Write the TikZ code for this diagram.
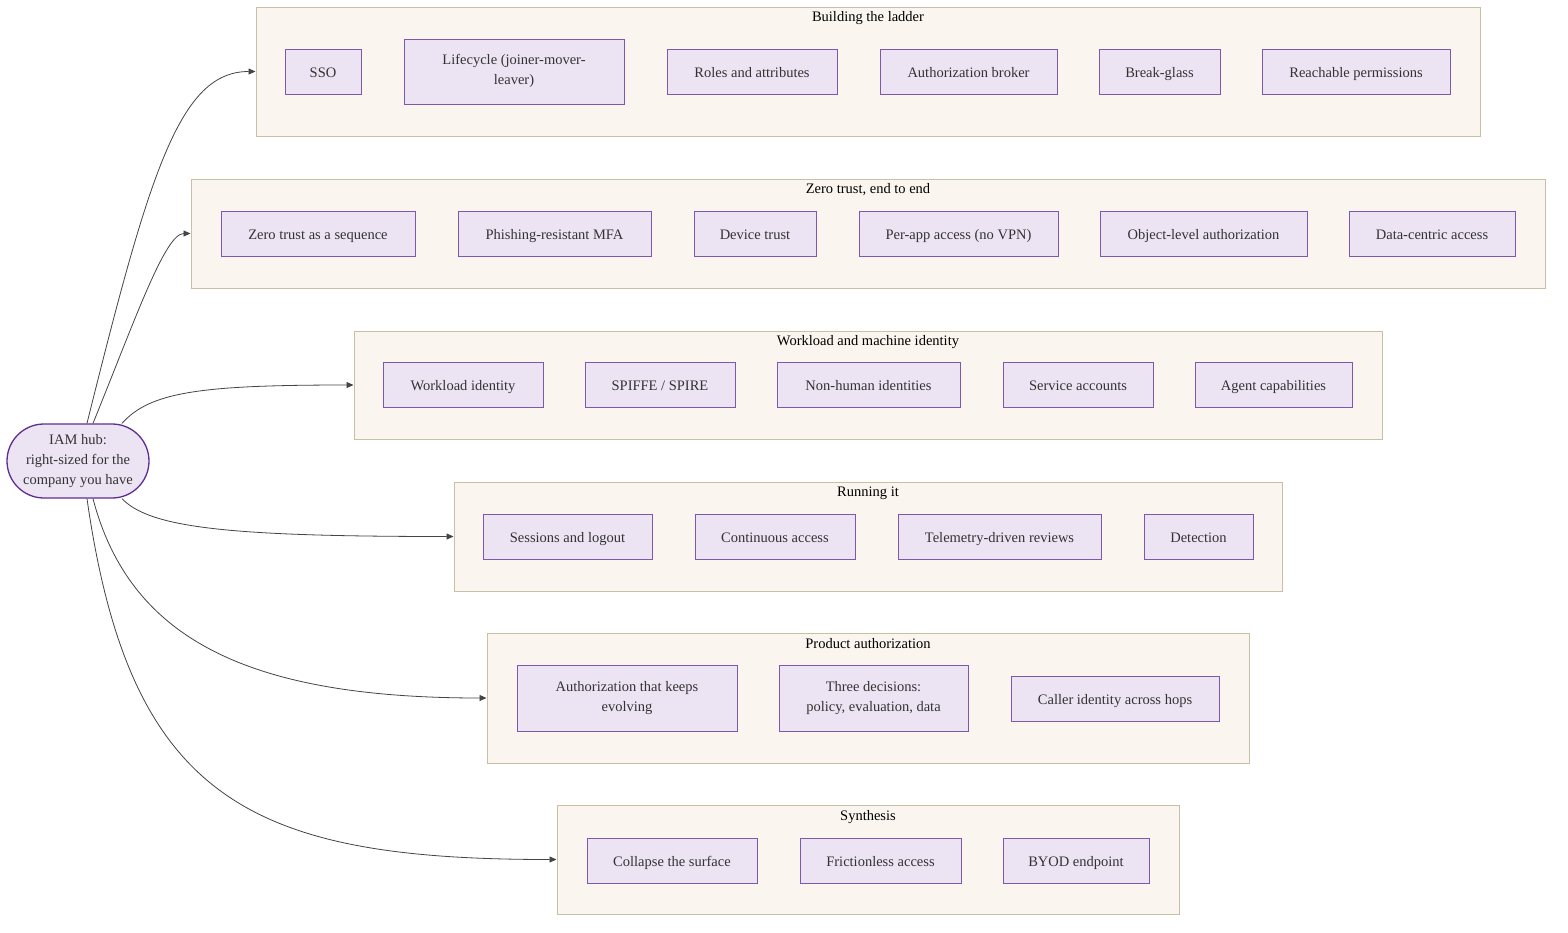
\documentclass[tikz,border=0pt]{standalone}
\usepackage{fontspec}
\setmainfont{Liberation Serif}
\usetikzlibrary{arrows.meta}
\definecolor{clfill}{HTML}{FAF6EF}
\definecolor{cldraw}{HTML}{C9BFA6}
\definecolor{itfill}{HTML}{ECE4F3}
\definecolor{itdraw}{HTML}{8057B0}
\definecolor{hubdraw}{HTML}{5E2E91}
\definecolor{txt}{HTML}{333333}
\definecolor{edge}{HTML}{444444}
\newcommand\boxstrut{\rule[-4pt]{0pt}{19pt}}
\tikzset{
  cluster/.style={draw=cldraw, fill=clfill, line width=1pt, inner sep=0pt},
  ctitle/.style={font=\fontsize{14.5}{16}\selectfont, text=black, inner sep=0pt,
    execute at begin node=\strut},
  itembox/.style={draw=itdraw, fill=itfill, line width=0.9pt, inner sep=0pt, minimum height=45pt,
    font=\fontsize{14.5}{20}\selectfont, text=txt, align=center,
    execute at begin node=\boxstrut, execute at end node=\boxstrut},
  hubbox/.style={draw=hubdraw, fill=itfill, line width=1.3pt, rounded corners=37pt, inner sep=0pt,
    minimum width=142pt, minimum height=74pt, font=\fontsize{14.5}{20}\selectfont, text=txt, align=center,
    execute at begin node=\boxstrut, execute at end node=\boxstrut},
  link/.style={draw=edge, line width=0.8pt, -{Triangle[length=7pt,width=6pt]}}
}
\begin{document}
\begin{tikzpicture}[x=1pt,y=-1pt]
\useasboundingbox (0,0) rectangle (1568,932);
\fill[white] (0,0) rectangle (1568,932);
% clusters
\node[cluster, minimum width=1224pt, minimum height=129pt] (c1) at (868,71.5) {};
\node[ctitle] (t1) at (868,18) {Building the ladder};
\node[cluster, minimum width=1354pt, minimum height=109pt] (c2) at (868,233.5) {};
\node[ctitle] (t2) at (868,190) {Zero trust, end to end};
\node[cluster, minimum width=1028pt, minimum height=108pt] (c3) at (868,385) {};
\node[ctitle] (t3) at (868,342) {Workload and machine identity};
\node[cluster, minimum width=828pt, minimum height=109pt] (c4) at (868,536.5) {};
\node[ctitle] (t4) at (868,493) {Running it};
\node[cluster, minimum width=762pt, minimum height=130pt] (c5) at (868,698) {};
\node[ctitle] (t5) at (868,645) {Product authorization};
\node[cluster, minimum width=622pt, minimum height=109pt] (c6) at (868,859.5) {};
\node[ctitle] (t6) at (868,817) {Synthesis};
% cluster 1
\node[itembox, minimum width=76pt] (sso) at (323,71.5) {SSO};
\node[itembox, minimum width=220pt, minimum height=65pt] (life) at (514,71.5) {Lifecycle (joiner-mover-\\leaver)};
\node[itembox, minimum width=170pt] (roles) at (752,71.5) {Roles and attributes};
\node[itembox, minimum width=177pt] (broker) at (968.5,71.5) {Authorization broker};
\node[itembox, minimum width=121pt] (glass) at (1159.5,71.5) {Break-glass};
\node[itembox, minimum width=188pt] (reach) at (1356,71.5) {Reachable permissions};
% cluster 2
\node[itembox, minimum width=194pt] (ztseq) at (318,233.5) {Zero trust as a sequence};
\node[itembox, minimum width=193pt] (mfa) at (554.5,233.5) {Phishing-resistant MFA};
\node[itembox, minimum width=122pt] (dev) at (755,233.5) {Device trust};
\node[itembox, minimum width=199pt] (perapp) at (958.5,233.5) {Per-app access (no VPN)};
\node[itembox, minimum width=207pt] (objlvl) at (1203.5,233.5) {Object-level authorization};
\node[itembox, minimum width=166pt] (data) at (1432,233.5) {Data-centric access};
% cluster 3
\node[itembox, minimum width=160pt] (wid) at (463,384.5) {Workload identity};
\node[itembox, minimum width=150pt] (spiffe) at (660,384.5) {SPIFFE / SPIRE};
\node[itembox, minimum width=183pt] (nhi) at (868.5,384.5) {Non-human identities};
\node[itembox, minimum width=150pt] (svc) at (1078,384.5) {Service accounts};
\node[itembox, minimum width=157pt] (agent) at (1273.5,384.5) {Agent capabilities};
% cluster 4
\node[itembox, minimum width=169pt] (sess) at (567.5,536.5) {Sessions and logout};
\node[itembox, minimum width=160pt] (cont) at (775,536.5) {Continuous access};
\node[itembox, minimum width=203pt] (tele) at (999.5,536.5) {Telemetry-driven reviews};
\node[itembox, minimum width=109pt] (det) at (1198.5,536.5) {Detection};
% cluster 5
\node[itembox, minimum width=220pt, minimum height=66pt] (evolve) at (627,698) {Authorization that keeps\\evolving};
\node[itembox, minimum width=189pt, minimum height=66pt] (three) at (873.5,698) {Three decisions:\\policy, evaluation, data};
\node[itembox, minimum width=208pt] (caller) at (1115,698.5) {Caller identity across hops};
% cluster 6
\node[itembox, minimum width=170pt] (collapse) at (672,860.5) {Collapse the surface};
\node[itembox, minimum width=161pt] (friction) at (880.5,860.5) {Frictionless access};
\node[itembox, minimum width=146pt] (byod) at (1076,860.5) {BYOD endpoint};
% hub
\node[hubbox] (hub) at (78,461) {IAM hub:\\right-sized for the\\company you have};
% edges
\draw[link] ([xshift=9pt]hub.north) .. controls (150,170) and (180,71.5) .. (c1.west);
\draw[link] ([xshift=15pt]hub.north) .. controls (135,320) and (165,233.5) .. (c2.west);
\draw[link] ([xshift=44pt]hub.north) .. controls (150,392) and (200,385) .. (c3.west);
\draw[link] ([xshift=44pt]hub.south) .. controls (150,528) and (230,536.5) .. (c4.west);
\draw[link] ([xshift=15pt]hub.south) .. controls (130,640) and (250,698) .. (c5.west);
\draw[link] ([xshift=9pt]hub.south) .. controls (130,800) and (250,859.5) .. (c6.west);
\end{tikzpicture}
\end{document}
